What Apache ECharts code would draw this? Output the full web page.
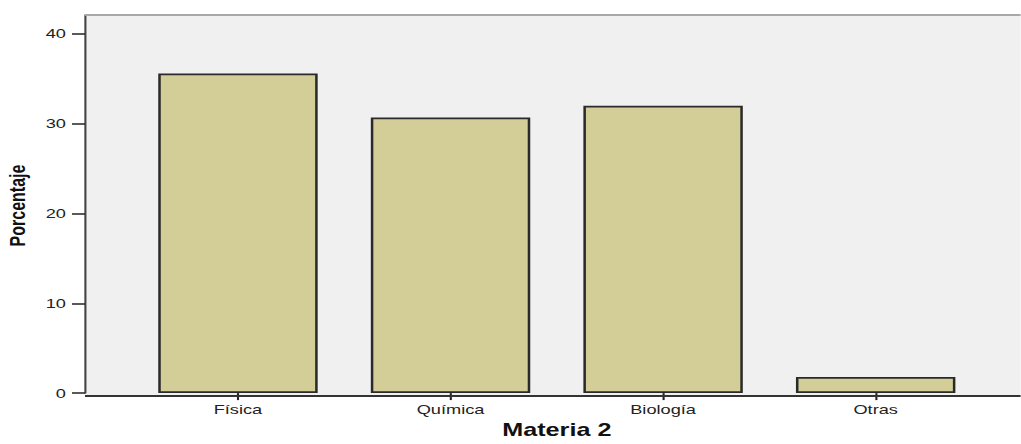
<!DOCTYPE html>
<html>
<head>
<meta charset="utf-8">
<script src="https://cdn.jsdelivr.net/npm/echarts@6/dist/echarts.min.js"></script>
<style>
  html, body { margin: 0; padding: 0; background: #ffffff; overflow: hidden; }
  #chart { width: 729.3px; height: 444px; transform: scaleX(1.4); transform-origin: 0 0; }
</style>
</head>
<body>
<div id="chart"></div>
<script>
// Data
const categories = ['Física', 'Química', 'Biología', 'Otras'];
const percentValues = [35.6, 30.7, 32.0, 1.8];
const yTickValues = [0, 10, 20, 30, 40];
const xTitle = 'Materia 2';
const yTitle = 'Porcentaje';

const chart = echarts.init(document.getElementById('chart'), null, { renderer: 'svg' });

// Layout (unstretched coordinates; the page stretches horizontally by 1.4)
const plotLeft = 60.7, plotRight = 729.3, plotTop = 15, plotBottom = 396;

chart.setOption({
  backgroundColor: '#ffffff',
  animation: false,
  grid: { left: 94.05, right: 27.6, top: plotTop, bottom: 444 - plotBottom, containLabel: false },
  xAxis: {
    type: 'category',
    data: categories,
    boundaryGap: true,
    name: xTitle,
    nameLocation: 'middle',
    nameGap: 25,
    nameTextStyle: { fontFamily: 'Liberation Sans', fontSize: 18, fontWeight: 'bold', color: '#111', verticalAlign: 'top' },
    axisLine: { show: false },
    axisTick: { show: true, alignWithLabel: true, length: 7, lineStyle: { color: '#222', width: 1.5 } },
    axisLabel: { fontFamily: 'Liberation Sans', fontSize: 13, color: '#222', margin: 10 },
    splitLine: { show: false }
  },
  yAxis: {
    type: 'value',
    min: 0,
    max: 42.1,
    interval: 10,
    offset: 33.35,
    axisLine: { show: true, lineStyle: { color: '#444', width: 1.5 } },
    axisTick: { show: true, length: 9.3, customValues: yTickValues, lineStyle: { color: '#222', width: 1.5 } },
    axisLabel: { fontFamily: 'Liberation Sans', fontSize: 13, color: '#222', margin: 13.6, customValues: yTickValues },
    splitLine: { show: false }
  },
  graphic: [
    { type: 'rect', z: -10, silent: true,
      shape: { x: plotLeft, y: plotTop, width: plotRight - plotLeft, height: plotBottom - plotTop },
      style: { fill: '#f0f0f0' } },
    { type: 'line', z: 5, silent: true,
      shape: { x1: plotLeft, y1: plotTop, x2: plotRight, y2: plotTop },
      style: { stroke: '#a8a8a8', lineWidth: 2 } },
    { type: 'line', z: 5, silent: true,
      shape: { x1: plotLeft, y1: plotBottom, x2: plotRight, y2: plotBottom },
      style: { stroke: '#333', lineWidth: 2 } },
    { type: 'text', z: 5, silent: true,
      x: 12, y: (plotTop + plotBottom) / 2, rotation: Math.PI / 2,
      style: { text: yTitle, fontFamily: 'Liberation Sans', fontSize: 16, fontWeight: 'bold', fill: '#111',
               align: 'center', verticalAlign: 'middle' } }
  ],
  series: [{
    type: 'bar',
    data: percentValues,
    barCategoryGap: '25%',
    itemStyle: { color: '#d3ce97', borderColor: '#2a2a2a', borderWidth: 1.8 },
    label: { show: false }
  }]
});
</script>
</body>
</html>
